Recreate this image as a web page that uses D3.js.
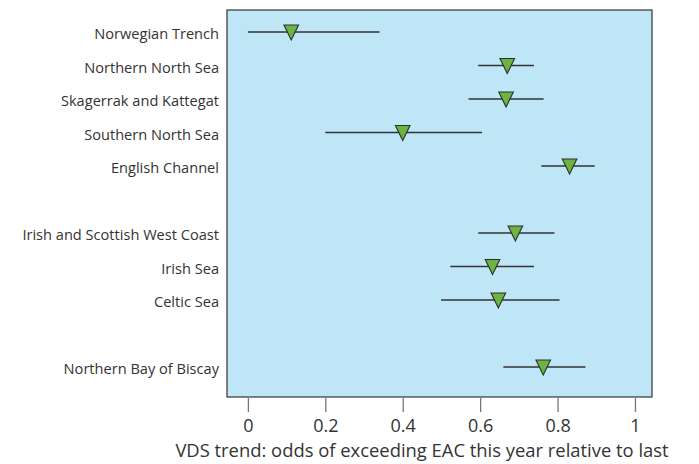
<!DOCTYPE html>
<html>
<head>
<meta charset="utf-8">
<script src="https://cdn.jsdelivr.net/npm/d3@7"></script>
<style>
  body { margin: 0; background: #fff; }
  svg { display: block; font-family: "Open Sans", sans-serif; }
</style>
</head>
<body>
<svg id="chart" width="699" height="464"></svg>
<script>
// Data
const categories = [
  "Norwegian Trench", "Northern North Sea", "Skagerrak and Kattegat", "Southern North Sea", "English Channel",
  "Irish and Scottish West Coast", "Irish Sea", "Celtic Sea",
  "Northern Bay of Biscay"
];
const groups = [0, 0, 0, 0, 0, 1, 1, 1, 2];
const estimate = [0.112, 0.670, 0.667, 0.400, 0.831, 0.691, 0.632, 0.647, 0.763];
const lower    = [0.000, 0.595, 0.570, 0.200, 0.758, 0.595, 0.523, 0.499, 0.660];
const upper    = [0.340, 0.739, 0.764, 0.605, 0.896, 0.792, 0.739, 0.805, 0.872];
const xTicks = [0, 0.2, 0.4, 0.6, 0.8, 1];
const xTickLabels = ["0", "0.2", "0.4", "0.6", "0.8", "1"];
const xTitle = "VDS trend: odds of exceeding EAC this year relative to last";

const svg = d3.select("#chart");
const plot = { left: 227, right: 652, top: 10, bottom: 397 };

const x = d3.scaleLinear().domain([-0.054, 1.044]).range([plot.left, plot.right]);

// slot index for each category including a gap between groups
const slots = categories.map((c, i) => i + groups[i]);
const nSlots = d3.max(slots) + 1;
const y = d3.scaleLinear().domain([0, nSlots - 1]).range([32, 367]);

svg.append("rect")
  .attr("x", plot.left).attr("y", plot.top)
  .attr("width", plot.right - plot.left).attr("height", plot.bottom - plot.top)
  .attr("fill", "#bee6f7").attr("stroke", "#333").attr("stroke-width", 1.2);

const rows = categories.map((c, i) => ({ c, slot: slots[i], est: estimate[i], lo: lower[i], hi: upper[i] }));

// labels
svg.append("g").selectAll("text").data(rows).join("text")
  .attr("x", plot.left - 8).attr("y", d => y(d.slot))
  .attr("dy", "0.48em").attr("text-anchor", "end")
  .attr("font-size", 14.6).attr("fill", "#333")
  .text(d => d.c);

// intervals
svg.append("g").selectAll("line").data(rows).join("line")
  .attr("x1", d => x(d.lo)).attr("x2", d => x(d.hi))
  .attr("y1", d => y(d.slot)).attr("y2", d => y(d.slot))
  .attr("stroke", "#333").attr("stroke-width", 1.3);

// triangles
svg.append("g").selectAll("path").data(rows).join("path")
  .attr("d", d => {
    const cx = x(d.est), cy = y(d.slot);
    return `M${cx - 7.3},${cy - 7} L${cx + 7.3},${cy - 7} L${cx},${cy + 8} Z`;
  })
  .attr("fill", "#6cb33f").attr("stroke", "#2e2e2e").attr("stroke-width", 1.1)
  .attr("stroke-linejoin", "miter");

// x axis
const xAxis = d3.axisBottom(x).tickValues(xTicks)
  .tickFormat((d, i) => xTickLabels[i]).tickSize(14).tickPadding(7);
const gx = svg.append("g").attr("transform", `translate(0,${plot.bottom + 1})`).call(xAxis);
gx.select(".domain").remove();
gx.selectAll(".tick line").attr("stroke", "#777").attr("stroke-width", 1.3);
gx.selectAll(".tick text").attr("font-size", 18).attr("fill", "#333")
  .attr("font-family", "'Open Sans', sans-serif");

svg.append("text")
  .attr("x", 422).attr("y", 456.5).attr("text-anchor", "middle")
  .attr("font-size", 18.4).attr("fill", "#333")
  .text(xTitle);
</script>
</body>
</html>
